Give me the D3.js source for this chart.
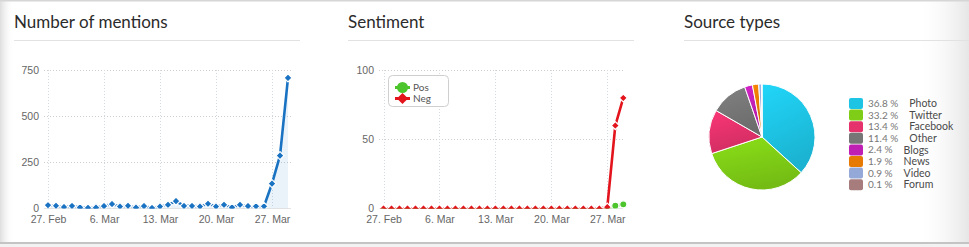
<!DOCTYPE html>
<html>
<head>
<meta charset="utf-8">
<script src="https://cdn.jsdelivr.net/npm/d3@7"></script>
<style>
  html, body { margin:0; padding:0; background:#fff; }
  svg { display:block; font-family: Lato, "Open Sans", sans-serif; }
  .title { font-size:17px; fill:#2b2b2b; }
  .tick text { font-size:10.5px; fill:#666; }
</style>
</head>
<body>
<svg id="chart" width="969" height="247"></svg>
<script>
// days shown on both line charts
const dates = [
  "2017-02-27","2017-02-28","2017-03-01","2017-03-02","2017-03-03","2017-03-04","2017-03-05",
  "2017-03-06","2017-03-07","2017-03-08","2017-03-09","2017-03-10","2017-03-11","2017-03-12",
  "2017-03-13","2017-03-14","2017-03-15","2017-03-16","2017-03-17","2017-03-18","2017-03-19",
  "2017-03-20","2017-03-21","2017-03-22","2017-03-23","2017-03-24","2017-03-25","2017-03-26",
  "2017-03-27","2017-03-28","2017-03-29"
];
const mentions = [18,15,8,14,6,4,5,13,24,11,15,5,13,3,11,20,40,14,14,11,26,11,20,6,20,13,12,12,135,287,709];
const sentimentPos = [0,0,0,0,0,0,0,0,0,0,0,0,0,0,0,0,0,0,0,0,0,0,0,0,0,0,0,0,0,2,3];
const sentimentNeg = [0,0,0,0,0,0,0,0,0,0,0,0,0,0,0,0,0,0,0,0,0,0,0,0,0,0,0,0,1,60,80];
const tickDates = ["2017-02-27","2017-03-06","2017-03-13","2017-03-20","2017-03-27"];
const mentionTicks = [0,250,500,750];
const sentimentTicks = [0,50,100];

const sourceNames = ["Photo","Twitter","Facebook","Other","Blogs","News","Video","Forum"];
const sourceShares = [36.8,33.2,13.4,11.4,2.4,1.9,0.9,0.1];
const sourceColors = ["#1ec4e4","#7fcd16","#e5316c","#767676","#c01fb4","#e67a02","#95a9d9","#a67c7c"];

const parse = d3.timeParse("%Y-%m-%d");
const fmt = d3.timeFormat("%-d. %b");
const svg = d3.select("#chart");
const defs = svg.append("defs");

// frame: top line, bottom line, soft shading at the sides
const gl = defs.append("linearGradient").attr("id","shadeL");
gl.append("stop").attr("offset","0%").attr("stop-color","#dedede");
gl.append("stop").attr("offset","100%").attr("stop-color","#fff").attr("stop-opacity",0);
const gr = defs.append("linearGradient").attr("id","shadeR");
gr.append("stop").attr("offset","0%").attr("stop-color","#fff").attr("stop-opacity",0);
gr.append("stop").attr("offset","100%").attr("stop-color","#e6e6e6");
svg.append("rect").attr("x",0).attr("y",0).attr("width",14).attr("height",244).attr("fill","url(#shadeL)");
svg.append("rect").attr("x",915).attr("y",0).attr("width",54).attr("height",244).attr("fill","url(#shadeR)");
svg.append("rect").attr("x",0).attr("y",0).attr("width",969).attr("height",1.5).attr("fill","#d6d6d6");
svg.append("rect").attr("x",0).attr("y",242).attr("width",969).attr("height",2).attr("fill","#c4c4c4");
svg.append("rect").attr("x",0).attr("y",244).attr("width",969).attr("height",3).attr("fill","#f2f2f2");

function panelTitle(x, x2, text){
  svg.append("text").attr("class","title").attr("x",x).attr("y",28).text(text);
  svg.append("line").attr("x1",x).attr("x2",x2).attr("y1",40.5).attr("y2",40.5)
    .attr("stroke","#e2e2e2").attr("stroke-width",1);
}
panelTitle(14, 300, "Number of mentions");
panelTitle(348, 634, "Sentiment");
panelTitle(684, 969, "Source types");

const diamond = d3.symbol().type(d3.symbolDiamond2).size(40);

function lineChart(opt){
  const x = d3.scaleTime().domain([parse(dates[0]), parse(dates[dates.length-1])]).range(opt.xr);
  const y = d3.scaleLinear().domain([0, opt.ymax]).range([208.5, 70.3]);
  const g = svg.append("g");

  // grid
  g.append("g").selectAll("line").data(opt.yticks.filter(d => d > 0)).join("line")
    .attr("x1",opt.left).attr("x2",opt.right).attr("y1",d => Math.round(y(d))+0.5).attr("y2",d => Math.round(y(d))+0.5)
    .attr("stroke","#cfcfcf").attr("stroke-dasharray","1,2");
  g.append("g").selectAll("line").data(tickDates).join("line")
    .attr("x1",d => Math.round(x(parse(d)))+0.5).attr("x2",d => Math.round(x(parse(d)))+0.5)
    .attr("y1",70).attr("y2",208.5)
    .attr("stroke","#d3dae2").attr("stroke-dasharray","1,2");
  g.append("line").attr("x1",opt.left).attr("x2",opt.right).attr("y1",208.5).attr("y2",208.5)
    .attr("stroke","#e4e4e4");

  // axes (labels only)
  const ya = g.append("g").attr("transform",`translate(${opt.left-5},0)`)
    .call(d3.axisLeft(y).tickValues(opt.yticks).tickSize(0).tickPadding(0));
  ya.select(".domain").remove();
  ya.selectAll("text").attr("dy","0.3em");
  const xa = g.append("g").attr("transform","translate(0,215)")
    .call(d3.axisBottom(x).tickValues(tickDates.map(parse)).tickFormat(fmt).tickSize(0).tickPadding(0));
  xa.select(".domain").remove();
  xa.selectAll("text").attr("dy","0.75em");

  const clipId = "clip" + opt.left;
  defs.append("clipPath").attr("id",clipId).append("rect")
    .attr("x",opt.left-10).attr("y",20).attr("width",opt.right-opt.left+20).attr("height",208.5-20);
  const plot = g.append("g").attr("clip-path",`url(#${clipId})`);

  opt.series.forEach(s => {
    const pts = s.values.map((v,i) => [x(parse(dates[i])), y(v)]);
    if (s.area) {
      plot.append("path").datum(pts)
        .attr("d", d3.area().x(d => d[0]).y0(y(0)).y1(d => d[1]))
        .attr("fill", s.area);
    }
    plot.append("path").datum(pts)
      .attr("d", d3.line())
      .attr("fill","none").attr("stroke",s.color).attr("stroke-width",2.6)
      .attr("stroke-linejoin","round");
    plot.append("g").selectAll("path").data(pts).join("path")
      .attr("transform",d => `translate(${d[0]},${d[1]})`)
      .attr("d", s.symbol === "circle" ? d3.symbol().type(d3.symbolCircle).size(40)() : diamond())
      .attr("fill",s.color).attr("stroke","#fff").attr("stroke-width",1.2);
  });
  return g;
}

lineChart({
  xr:[48,288], left:44, right:291, ymax:750, yticks:mentionTicks,
  series:[{values:mentions, color:"#1a72c2", area:"rgba(30,120,200,0.09)"}]
});

lineChart({
  xr:[383.5,623.3], left:379, right:623, ymax:100, yticks:sentimentTicks,
  series:[
    {values:sentimentPos, color:"#4cc52c", symbol:"circle"},
    {values:sentimentNeg, color:"#e3141c"}
  ]
});

// sentiment legend
const lg = svg.append("g");
lg.append("rect").attr("x",388.5).attr("y",75.5).attr("width",60).attr("height",31).attr("rx",4)
  .attr("fill","#fff").attr("stroke","#cfcfcf");
const legendItems = [
  {name:"Pos", color:"#4cc52c", sym:d3.symbolCircle},
  {name:"Neg", color:"#e3141c", sym:d3.symbolDiamond2}
];
legendItems.forEach((it,i) => {
  const cy = 87.5 + i*11;
  lg.append("line").attr("x1",395).attr("x2",410).attr("y1",cy).attr("y2",cy)
    .attr("stroke",it.color).attr("stroke-width",3);
  lg.append("path").attr("transform",`translate(402.5,${cy})`)
    .attr("d", d3.symbol().type(it.sym).size(it.sym === d3.symbolCircle ? 95 : 80)()).attr("fill",it.color);
  lg.append("text").attr("x",413).attr("y",cy).attr("dy","0.35em")
    .attr("font-size",10).attr("fill","#555").text(it.name);
});

// pie
const pieData = d3.pie().sort(null)(sourceShares);
const arc = d3.arc().innerRadius(0).outerRadius(53);
sourceColors.forEach((c,i) => {
  const lgr = defs.append("linearGradient").attr("id","sg"+i).attr("x1",0).attr("y1",0).attr("x2",0.3).attr("y2",1);
  lgr.append("stop").attr("offset","0%").attr("stop-color",d3.color(c).brighter(0.25));
  lgr.append("stop").attr("offset","100%").attr("stop-color",d3.color(c).darker(0.25));
});
const pg = svg.append("g").attr("transform","translate(762,137)");
pg.selectAll("path").data(pieData).join("path")
  .attr("d",arc).attr("fill",(d,i) => `url(#sg${i})`)
  .attr("stroke","#fff").attr("stroke-width",1);

const pl = svg.append("g");
sourceNames.forEach((n,i) => {
  const cy = 103.5 + i*11.6;
  pl.append("rect").attr("x",849).attr("y",cy-5.5).attr("width",14).attr("height",11).attr("rx",2)
    .attr("fill",sourceColors[i]);
  const t = pl.append("text").attr("x",868).attr("y",cy).attr("dy","0.35em")
    .attr("font-size",10).attr("fill","#777").text(sourceShares[i].toFixed(1) + " %");
  const w = t.node().getComputedTextLength();
  pl.append("text").attr("x",868 + w + 11).attr("y",cy).attr("dy","0.35em")
    .attr("font-size",10.5).attr("fill","#4a4a4a").text(n);
});
</script>
</body>
</html>
